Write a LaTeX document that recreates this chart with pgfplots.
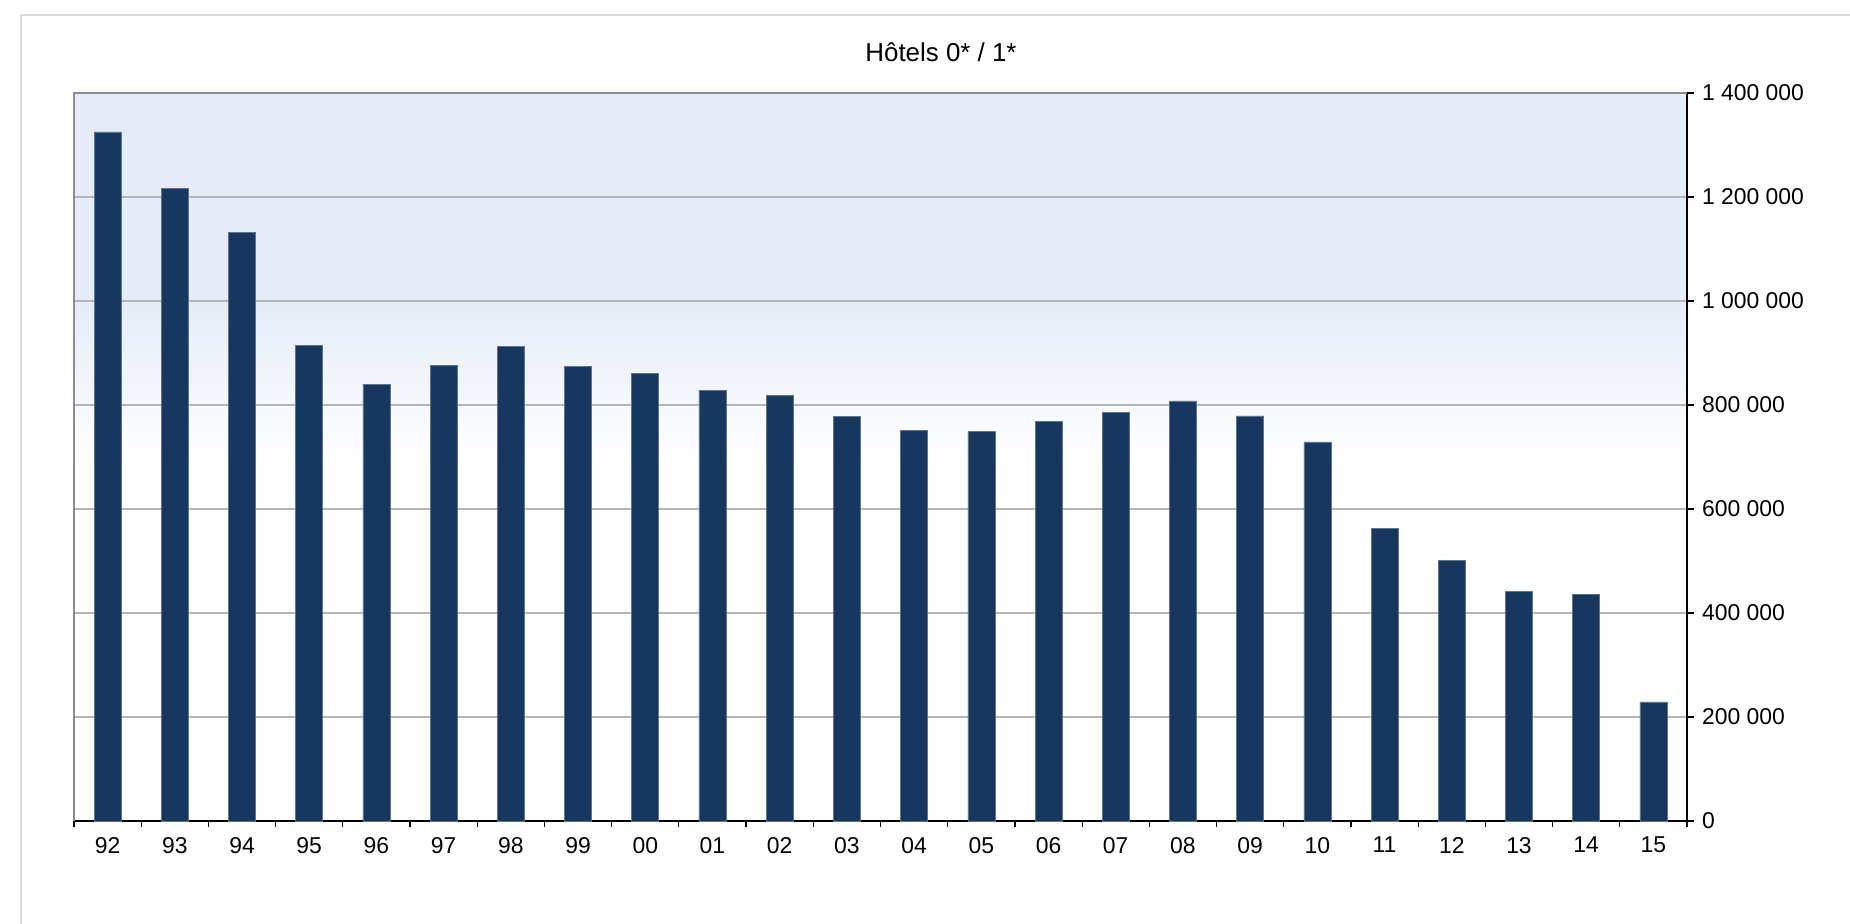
\documentclass[border=0pt]{standalone}
\usepackage{pgfplots}
\pgfplotsset{compat=1.18}
\usepackage{fontspec}
\setmainfont{Liberation Sans}
\definecolor{barblue}{HTML}{17375E}
\definecolor{bgblue}{HTML}{E6ECF7}
\definecolor{framegray}{HTML}{D9D9D9}
\definecolor{gridgray}{HTML}{B4B4B4}
\pgfdeclareverticalshading{bgshade}{100bp}{color(0bp)=(white); color(49.5bp)=(white); color(60.5bp)=(bgblue); color(100bp)=(bgblue)}
\begin{document}
\begin{tikzpicture}
\useasboundingbox (-37bp,-51.5bp) rectangle (888bp,410.5bp);
\draw[framegray, line width=1bp] (-26.5bp,-60bp) -- (-26.5bp,403bp) -- (900bp,403bp);
\begin{axis}[
  at={(0,0)}, anchor=south west,
  scale only axis, width=806.5bp, height=364bp,
  xmin=-0.5, xmax=23.5, ymin=0, ymax=1400000,
  axis background/.style={shading=bgshade},
  axis x line*=bottom, axis y line*=right,
  axis line style={black, line width=0.8bp},
  xtick={0,...,23},
  xticklabels={92,93,94,95,96,97,98,99,00,01,02,03,04,05,06,07,08,09,10,11,12,13,14,15},
  minor xtick={-0.5,0.5,...,23.5},
  major x tick style={draw=none},
  minor x tick style={black, line width=0.6bp},
  minor tick length=3bp,
  major tick length=3.5bp,
  scaled y ticks=false,
  ytick={0,200000,...,1400000},
  yticklabels={0,200 000,400 000,600 000,800 000,1 000 000,1 200 000,1 400 000},
  y tick style={black, line width=0.6bp},
  tick align=outside,
  ymajorgrids, grid style={gridgray, line width=0.8bp},
  ticklabel style={font=\fontsize{11.5}{13}\selectfont},
  xticklabel style={yshift=-1bp},
  yticklabel style={xshift=0.5bp},
  ybar, bar width=13.5bp, bar shift=0pt,
  clip=false,
]
\addplot[fill=barblue, draw=barblue!70!white, line width=0.3bp] coordinates {
(0,1325000) (1,1216000) (2,1132000) (3,914000) (4,840000) (5,876000)
(6,912000) (7,874000) (8,860000) (9,828000) (10,819000) (11,778000)
(12,751000) (13,749000) (14,769000) (15,785000) (16,808000) (17,779000)
(18,729000) (19,563000) (20,501000) (21,442000) (22,435000) (23,229000)
};
\draw[black!45, line width=1bp] (rel axis cs:0,0) -- (rel axis cs:0,1) -- (rel axis cs:1,1);
\end{axis}
\node[font=\fontsize{13}{15}\selectfont] at (433.5bp,384.5bp) {Hôtels 0* / 1*};
\end{tikzpicture}
\end{document}
